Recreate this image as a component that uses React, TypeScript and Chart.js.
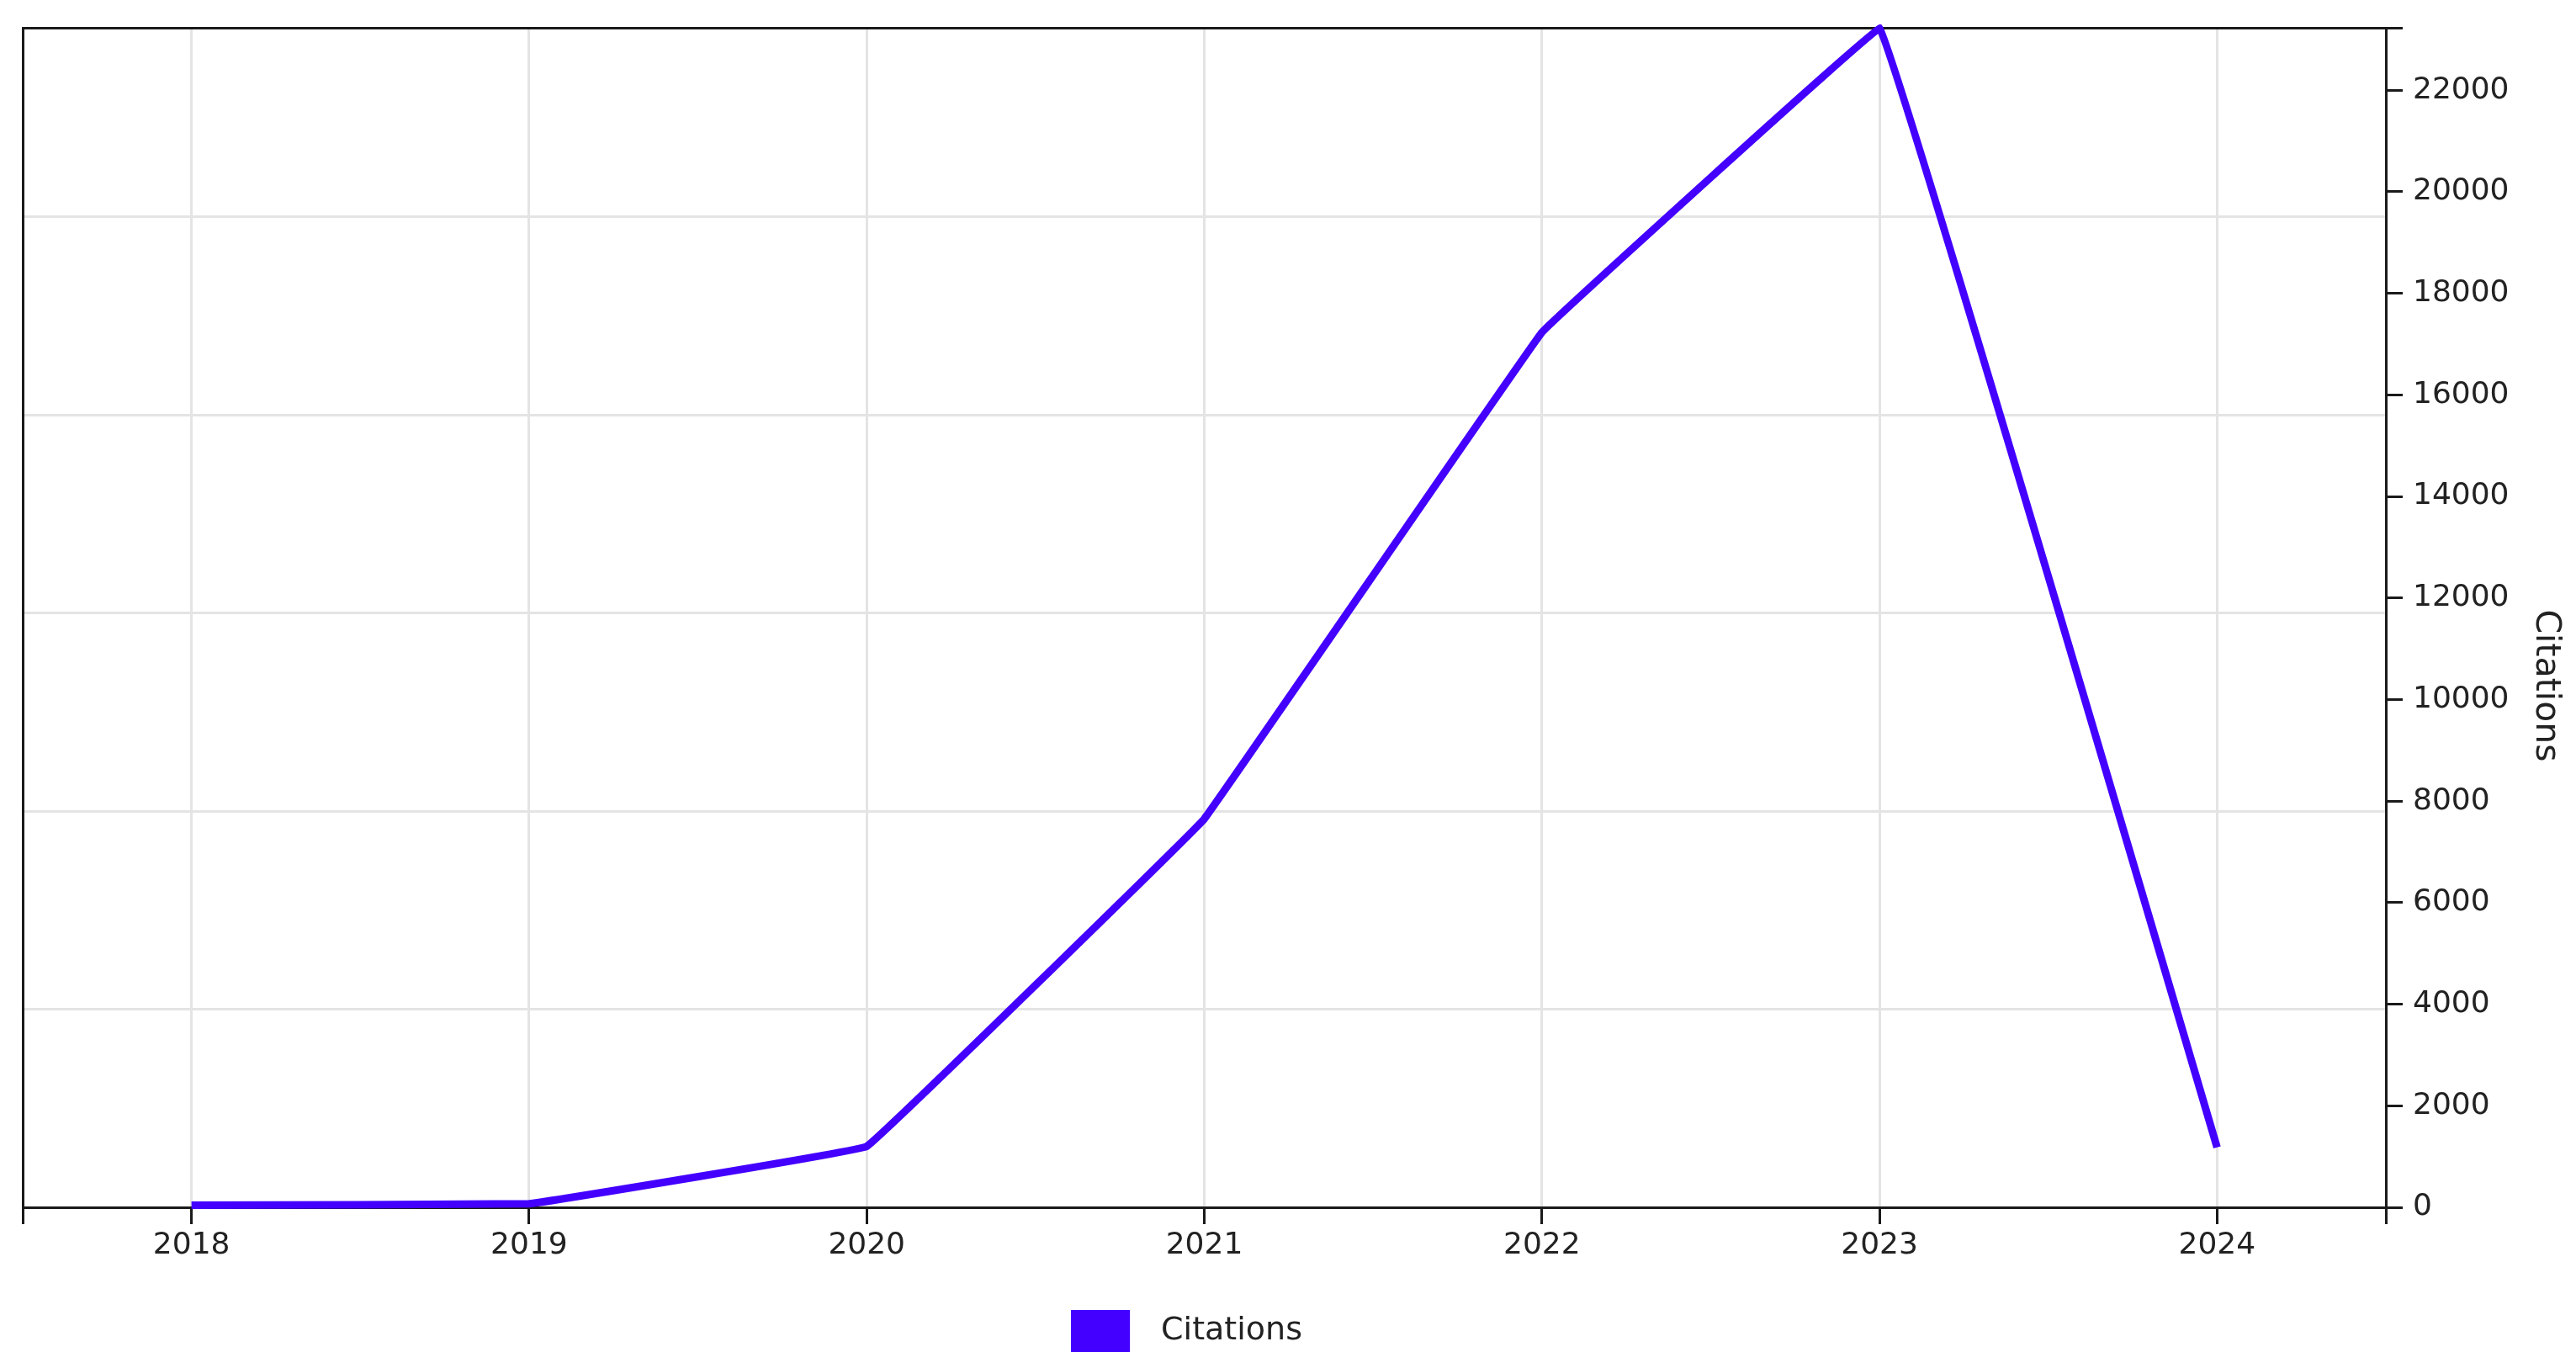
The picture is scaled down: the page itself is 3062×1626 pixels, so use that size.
import React, { useEffect, useRef } from 'react';
import { Chart, registerables } from 'chart.js';

Chart.register(...registerables);

// ---- data ----
const years = [2018, 2019, 2020, 2021, 2022, 2023, 2024];
const citations = [40, 70, 1200, 7650, 17230, 23220, 1180];
const citationTicks = [0, 2000, 4000, 6000, 8000, 10000, 12000, 14000, 16000, 18000, 20000, 22000];
const secondaryGridTicks = [1, 2, 3, 4, 5];
const secondaryMax = 5.953;
const seriesLabel = 'Citations';
const axisTitle = 'Citations';

const LINE_COLOR = '#4300ff';
const DARK = '#1a1a1a';
const TEXT = '#222222';
const GRID = '#e4e4e4';
const FONT = 'DejaVu Sans';

export default function App() {
  const canvasRef = useRef<HTMLCanvasElement | null>(null);

  useEffect(() => {
    document.body.style.margin = '0';
    const canvas = canvasRef.current;
    if (!canvas) return;

    const yMax = Math.max(...citations);
    const xMin = years[0] - 0.5;
    const xMax = years[years.length - 1] + 0.5;
    const xTickValues = [xMin, ...years, xMax];

    // legend swatch: 70x50 box, with transparent room to the right
    const swatch = document.createElement('canvas');
    swatch.width = 130;
    swatch.height = 50;
    const sctx = swatch.getContext('2d');
    if (sctx) {
      sctx.fillStyle = LINE_COLOR;
      sctx.fillRect(0, 0, 70, 50);
    }

    const titlePlugin = {
      id: 'rightAxisTitle',
      afterDraw(chart: any) {
        const ctx = chart.ctx;
        ctx.save();
        ctx.translate(chart.width - 36, chart.height / 2 + 2);
        ctx.rotate(Math.PI / 2);
        ctx.fillStyle = TEXT;
        ctx.font = `41px "${FONT}"`;
        ctx.textAlign = 'center';
        ctx.textBaseline = 'middle';
        ctx.fillText(axisTitle, 0, 0);
        ctx.restore();
      },
    };

    const chart = new Chart(canvas, {
      type: 'line',
      data: {
        datasets: [
          {
            label: seriesLabel,
            data: years.map((y, i) => ({ x: y, y: citations[i] })),
            borderColor: LINE_COLOR,
            backgroundColor: LINE_COLOR,
            borderWidth: 9,
            pointRadius: 0,
            pointHoverRadius: 0,
            tension: 0.03,
            clip: false as any,
            xAxisID: 'x',
            yAxisID: 'y',
          },
        ],
      },
      options: {
        animation: false,
        responsive: false,
        devicePixelRatio: 1,
        layout: { padding: { top: 30, left: 27, right: 0, bottom: 15 } },
        font: { family: FONT },
        plugins: {
          tooltip: { enabled: false },
          legend: {
            position: 'bottom',
            fullSize: false,
            labels: {
              usePointStyle: true,
              pointStyle: swatch as any,
              pointStyleWidth: 46,
              padding: 10,
              color: TEXT,
              font: { size: 38, family: FONT },
            },
          },
        },
        scales: {
          x: {
            type: 'linear',
            position: 'bottom',
            min: xMin,
            max: xMax,
            afterBuildTicks: (s: any) => {
              s.ticks = xTickValues.map((v) => ({ value: v }));
            },
            afterFit: (s: any) => {
              s.height = 118;
            },
            ticks: {
              autoSkip: false,
              maxRotation: 0,
              padding: 4,
              color: TEXT,
              font: { size: 36, family: FONT },
              callback: (v: any) => (Number.isInteger(v) ? String(v) : ''),
            },
            grid: {
              z: -1,
              color: (c: any) =>
                c.tick && (c.tick.value === xMin || c.tick.value === xMax) ? DARK : GRID,
              lineWidth: 3,
              tickColor: DARK,
              tickLength: 20,
              tickWidth: 3,
            } as any,
            border: { display: true, color: DARK, width: 3 },
          },
          y: {
            type: 'linear',
            position: 'right',
            min: 0,
            max: yMax,
            afterBuildTicks: (s: any) => {
              s.ticks = [...citationTicks, yMax].map((v) => ({ value: v }));
            },
            afterFit: (s: any) => {
              s.width = 226;
            },
            ticks: {
              padding: 12,
              color: TEXT,
              font: { size: 36, family: FONT },
              callback: (v: any) => (citationTicks.includes(v) ? String(v) : ''),
            },
            grid: {
              color: (c: any) =>
                c.tick && (c.tick.value === yMax || c.tick.value === 0) ? DARK : 'rgba(0,0,0,0)',
              lineWidth: 3,
              tickColor: DARK,
              tickLength: 20,
              tickWidth: 3,
            } as any,
            border: { display: true, color: DARK, width: 3 },
          },
          y2: {
            type: 'linear',
            position: 'left',
            min: 0,
            max: secondaryMax,
            afterBuildTicks: (s: any) => {
              s.ticks = secondaryGridTicks.map((v) => ({ value: v }));
            },
            afterFit: (s: any) => {
              s.width = 0;
            },
            ticks: { display: false },
            grid: { z: -1, color: GRID, lineWidth: 3, drawTicks: false } as any,
            border: { display: true, color: DARK, width: 3 },
          },
        },
      } as any,
      plugins: [titlePlugin],
    });

    return () => {
      chart.destroy();
    };
  }, []);

  return (
    <div style={{ width: 3062, height: 1626, background: '#fff' }}>
      <canvas ref={canvasRef} width={3062} height={1626} style={{ display: 'block' }} />
    </div>
  );
}
